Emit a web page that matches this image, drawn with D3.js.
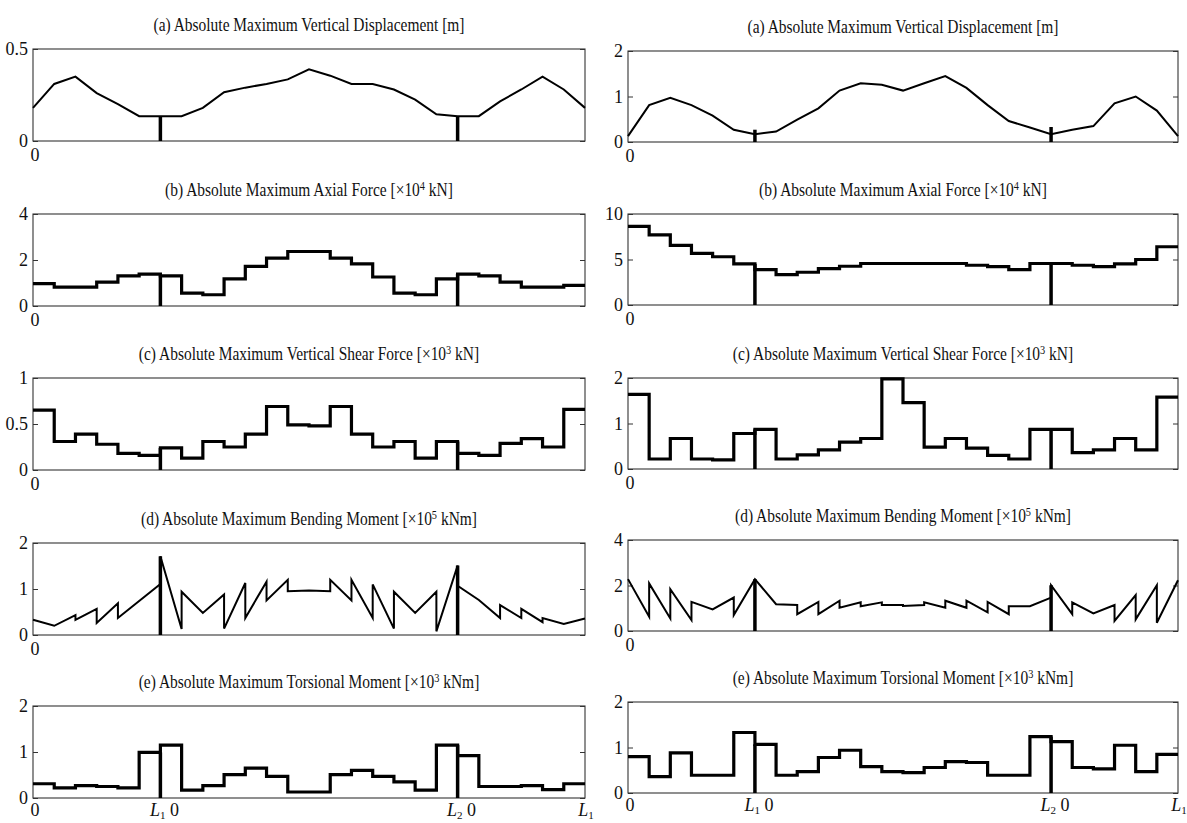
<!DOCTYPE html>
<html>
<head>
<meta charset="utf-8">
<script src="https://cdn.jsdelivr.net/npm/d3@7"></script>
<style>
  body { margin: 0; background: #fff; }
  svg text { font-family: "Liberation Serif", "Times New Roman", serif; fill: #111; }
</style>
</head>
<body>
<svg id="chart" width="1187" height="823"></svg>
<script>
// ---- bridge geometry: 26 element segments, interior supports after segment 6 and 20
const segmentCount = 26;
const supportPositions = [6, 20];
const bottomTickPositions = [0, 6, 20, 26];
// bottom axis labels: [italic letter, subscript, plain text]
const bottomTickLabels = [["", "", "0"], ["L", "1", " 0"], ["L", "2", " 0"], ["L", "1", ""]];

// ---- panel titles: [text before exponent, exponent, text after]
const panelTitles = [
  ["(a) Absolute Maximum Vertical Displacement [m]", "", ""],
  ["(b) Absolute Maximum Axial Force [\u00d710", "4", " kN]"],
  ["(c) Absolute Maximum Vertical Shear Force [\u00d710", "3", " kN]"],
  ["(d) Absolute Maximum Bending Moment [\u00d710", "5", " kNm]"],
  ["(e) Absolute Maximum Torsional Moment [\u00d710", "3", " kNm]"]
];

// ---- y tick values per panel, case 1 (left column) and case 2 (right column)
const yTicksCase1 = [[0, 0.5], [0, 2, 4], [0, 0.5, 1], [0, 1, 2], [0, 1, 2]];
const yTicksCase2 = [[0, 1, 2], [0, 5, 10], [0, 1, 2], [0, 2, 4], [0, 1, 2]];

// ---- (a) vertical displacement at the 27 nodes [m]
const displacementCase1 = [0.18, 0.31, 0.35, 0.26, 0.20, 0.135, 0.135, 0.135, 0.18, 0.265, 0.29, 0.31, 0.335,
  0.39, 0.355, 0.31, 0.31, 0.28, 0.225, 0.145, 0.135, 0.135, 0.215, 0.28, 0.35, 0.28, 0.18];
const displacementCase2 = [0.13, 0.81, 0.97, 0.81, 0.58, 0.27, 0.17, 0.23, 0.49, 0.74, 1.13, 1.29, 1.26,
  1.13, 1.29, 1.45, 1.19, 0.81, 0.46, 0.32, 0.17, 0.27, 0.35, 0.85, 1.0, 0.69, 0.13];

// ---- (b) axial force per segment [x10^4 kN]
const axialCase1 = [0.97, 0.82, 0.82, 1.04, 1.31, 1.39, 1.31, 0.56, 0.49, 1.18, 1.72, 2.08, 2.37,
  2.37, 2.08, 1.83, 1.26, 0.56, 0.49, 1.18, 1.39, 1.31, 1.04, 0.82, 0.82, 0.9];
const axialCase2 = [8.63, 7.7, 6.56, 5.67, 5.3, 4.52, 3.89, 3.33, 3.6, 4.0, 4.26, 4.56, 4.56,
  4.56, 4.56, 4.56, 4.37, 4.22, 3.89, 4.56, 4.56, 4.37, 4.22, 4.52, 5.0, 6.4];

// ---- (c) vertical shear force per segment [x10^3 kN]
const shearCase1 = [0.65, 0.31, 0.39, 0.28, 0.18, 0.16, 0.24, 0.13, 0.31, 0.25, 0.39, 0.69, 0.49,
  0.48, 0.69, 0.39, 0.25, 0.31, 0.13, 0.31, 0.18, 0.16, 0.29, 0.34, 0.25, 0.66];
const shearCase2 = [1.64, 0.22, 0.67, 0.22, 0.2, 0.78, 0.87, 0.22, 0.31, 0.42, 0.59, 0.67, 1.98,
  1.46, 0.48, 0.67, 0.46, 0.3, 0.22, 0.87, 0.87, 0.36, 0.42, 0.67, 0.42, 1.58];

// ---- (d) bending moment envelope vertices [position, x10^5 kNm]; repeated positions are jumps
const bendingCase1 = [[0, 0.33], [1, 0.2], [2, 0.43], [2, 0.33], [3, 0.57], [3, 0.26], [4, 0.69], [4, 0.37],
  [6, 1.11], [6, 1.71], [7, 0.13], [7, 0.94], [8, 0.48], [9, 0.88], [9, 0.14], [10, 1.13], [10, 0.37],
  [11, 1.16], [11, 0.75], [12, 1.2], [12, 0.95], [13, 0.97], [14, 0.95], [14, 1.2], [15, 0.75], [15, 1.2],
  [16, 0.37], [16, 1.1], [17, 0.14], [17, 0.94], [18, 0.48], [19, 0.94], [19, 0.08], [20, 1.51], [20, 1.07],
  [21, 0.76], [22, 0.37], [22, 0.65], [23, 0.37], [23, 0.57], [24, 0.28], [24, 0.37], [25, 0.24], [26, 0.36]];
const bendingCase2 = [[0, 2.28], [1, 0.63], [1, 2.09], [2, 0.55], [2, 1.84], [3, 0.48], [3, 1.28], [4, 0.95],
  [5, 1.47], [5, 0.7], [6, 2.28], [7, 1.18], [8, 1.14], [8, 0.74], [9, 1.28], [9, 0.74], [10, 1.33], [10, 1.02],
  [11, 1.26], [11, 1.09], [12, 1.26], [12, 1.14], [13, 1.14], [13, 1.1], [14, 1.14], [14, 1.26], [15, 1.02],
  [15, 1.33], [16, 1.02], [16, 1.33], [17, 0.82], [17, 1.28], [18, 0.74], [18, 1.09], [19, 1.09], [20, 1.47],
  [20, 2.01], [21, 0.74], [21, 1.26], [22, 0.77], [23, 1.14], [23, 0.44], [24, 1.58], [24, 0.51], [25, 2.01],
  [25, 0.36], [26, 2.23]];

// ---- (e) torsional moment per segment [x10^3 kNm]
const torsionCase1 = [0.31, 0.22, 0.27, 0.25, 0.22, 0.99, 1.15, 0.17, 0.27, 0.51, 0.65, 0.47, 0.13,
  0.13, 0.51, 0.6, 0.47, 0.35, 0.17, 1.15, 0.92, 0.25, 0.25, 0.27, 0.18, 0.31];
const torsionCase2 = [0.8, 0.36, 0.88, 0.39, 0.39, 1.33, 1.07, 0.39, 0.47, 0.78, 0.94, 0.58, 0.47,
  0.45, 0.56, 0.69, 0.67, 0.39, 0.39, 1.24, 1.13, 0.56, 0.53, 1.05, 0.47, 0.85];

// ---- heights of the support markers drawn at the two interior supports
const supportTopsCase1 = [[0.135, 0.135], [1.33, 1.39], [0.24, 0.31], [1.71, 1.51], [0.99, 1.15]];
const supportTopsCase2 = [[0.27, 0.33], [4.52, 4.56], [0.87, 0.87], [2.28, 2.01], [1.07, 1.24]];

// ---------------------------------------------------------------------------
const svg = d3.select("#chart");

const columns = [
  { x0: 33, x1: 585, tops: [49, 214, 378, 543, 706], h: 92, ticks: yTicksCase1, supports: supportTopsCase1,
    series: [displacementCase1, axialCase1, shearCase1, bendingCase1, torsionCase1] },
  { x0: 628, x1: 1178, tops: [51, 214, 378, 540, 702], h: 91, ticks: yTicksCase2, supports: supportTopsCase2,
    series: [displacementCase2, axialCase2, shearCase2, bendingCase2, torsionCase2] }
];
const kinds = ["nodes", "steps", "steps", "vertices", "steps"];

columns.forEach(col => {
  col.series.forEach((values, p) => {
    const top = col.tops[p], bottom = top + col.h;
    const ticks = col.ticks[p];
    const x = d3.scaleLinear().domain([0, segmentCount]).range([col.x0, col.x1]);
    const y = d3.scaleLinear().domain([0, d3.max(ticks)]).range([bottom, top]);
    const g = svg.append("g");

    // title with optional exponent
    const t = panelTitles[p];
    const title = g.append("text")
      .attr("transform", `translate(${(col.x0 + col.x1) / 2},${top - 18}) scale(0.86,1)`)
      .attr("text-anchor", "middle")
      .style("font-size", "18px");
    title.append("tspan").text(t[0]);
    if (t[1]) {
      title.append("tspan").attr("dy", -6).style("font-size", "12px").text(t[1]);
      title.append("tspan").attr("dy", 6).text(t[2]);
    }

    // frame
    g.append("rect")
      .attr("x", col.x0).attr("y", top)
      .attr("width", col.x1 - col.x0).attr("height", col.h)
      .attr("fill", "none").attr("stroke", "#333").attr("stroke-width", 1.1);

    // y axes: labelled on the left, inward ticks on both sides
    const left = g.append("g").attr("transform", `translate(${col.x0},0)`)
      .call(d3.axisLeft(y).tickValues(ticks).tickSize(-5).tickPadding(5).tickFormat(d3.format("~g")));
    left.select(".domain").remove();
    left.selectAll("line").attr("stroke", "#333");
    left.selectAll("text").style("font-size", "18px").style("font-family", "Liberation Serif, serif").attr("fill", "#111");
    const right = g.append("g").attr("transform", `translate(${col.x1},0)`)
      .call(d3.axisRight(y).tickValues(ticks).tickSize(-5).tickFormat(""));
    right.select(".domain").remove();
    right.selectAll("line").attr("stroke", "#333");

    // the data curve
    let path;
    if (kinds[p] === "nodes") {
      path = d3.line().x((d, i) => x(i)).y(d => y(d))(values);
    } else if (kinds[p] === "steps") {
      const pts = values.map((v, i) => [i, v]).concat([[segmentCount, values[values.length - 1]]]);
      path = d3.line().x(d => x(d[0])).y(d => y(d[1])).curve(d3.curveStepAfter)(pts);
    } else {
      path = d3.line().x(d => x(d[0])).y(d => y(d[1]))(values);
    }
    g.append("path").attr("d", path).attr("fill", "none").attr("stroke", "#000")
      .attr("stroke-width", kinds[p] === "steps" ? 3.2 : 2).attr("stroke-linejoin", "miter");

    // support markers
    supportPositions.forEach((s, k) => {
      g.append("line")
        .attr("x1", x(s)).attr("x2", x(s))
        .attr("y1", y(0)).attr("y2", y(col.supports[p][k]))
        .attr("stroke", "#000").attr("stroke-width", 3.5);
    });

    // x labels
    if (p < 4) {
      g.append("text").attr("x", x(0) + 2).attr("y", bottom + 20)
        .attr("text-anchor", "middle").style("font-size", "18px").text("0");
    } else {
      bottomTickPositions.forEach((pos, k) => {
        const lab = bottomTickLabels[k];
        const tx = g.append("text").attr("y", bottom + 18).style("font-size", "18px");
        if (k === 0) tx.attr("x", x(pos) + 2).attr("text-anchor", "middle");
        else if (k === bottomTickPositions.length - 1) tx.attr("x", x(pos) + 1).attr("text-anchor", "middle");
        else tx.attr("x", x(pos) + 4).attr("text-anchor", "middle");
        if (lab[0]) {
          tx.append("tspan").style("font-style", "italic").text(lab[0]);
          tx.append("tspan").attr("dy", 3).style("font-size", "11px").text(lab[1]);
          if (lab[2]) tx.append("tspan").attr("dy", -3).text(lab[2]);
        } else {
          tx.append("tspan").text(lab[2]);
        }
      });
    }
  });
});
</script>
</body>
</html>
